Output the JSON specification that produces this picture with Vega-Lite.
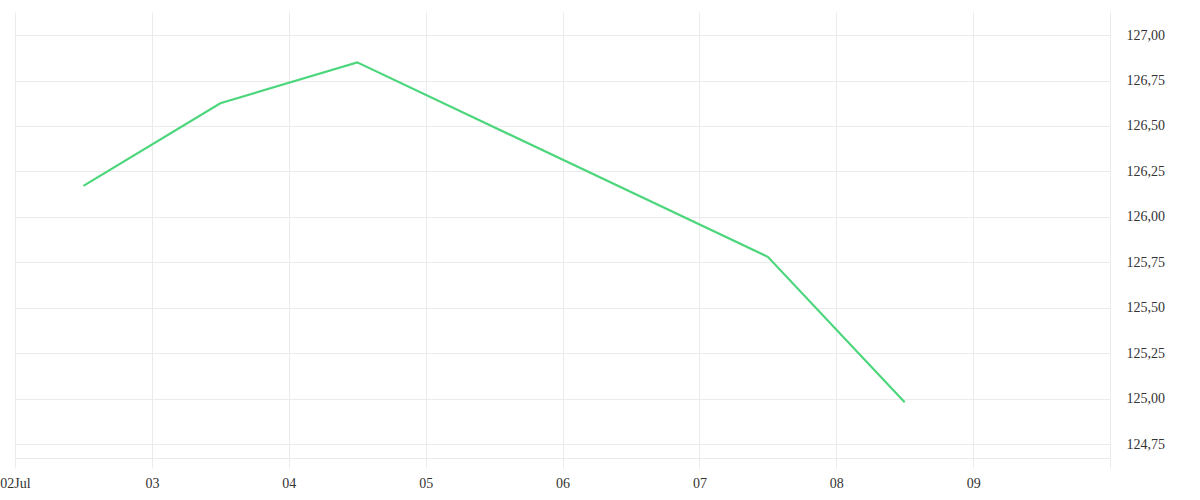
{
  "$schema": "https://vega.github.io/schema/vega-lite/v6.json",
  "width": 1095,
  "height": 446,
  "autosize": {"type": "none"},
  "padding": {"left": 15, "top": 12, "right": 90, "bottom": 42},
  "background": "white",
  "config": {
    "view": {"stroke": null},
    "font": "serif",
    "axis": {"labelFont": "serif", "labelFontSize": 14, "labelColor": "#333333", "gridColor": "#ebebeb", "domainColor": "#ebebeb", "tickColor": "#ebebeb", "title": null}
  },
  "data": {
    "values": [
      {"date": "2024-07-02T12:00:00", "price": 126.17},
      {"date": "2024-07-03T12:00:00", "price": 126.625},
      {"date": "2024-07-04T12:00:00", "price": 126.85},
      {"date": "2024-07-07T12:00:00", "price": 125.78},
      {"date": "2024-07-08T12:00:00", "price": 124.98}
    ]
  },
  "mark": {"type": "line", "color": "#4cd67c", "strokeWidth": 2.2},
  "encoding": {
    "x": {
      "field": "date",
      "type": "temporal",
      "scale": {"domain": [{"year": 2024, "month": 7, "date": 2}, {"year": 2024, "month": 7, "date": 10}], "nice": false},
      "axis": {
        "values": [
          {"year": 2024, "month": 7, "date": 2},
          {"year": 2024, "month": 7, "date": 3},
          {"year": 2024, "month": 7, "date": 4},
          {"year": 2024, "month": 7, "date": 5},
          {"year": 2024, "month": 7, "date": 6},
          {"year": 2024, "month": 7, "date": 7},
          {"year": 2024, "month": 7, "date": 8},
          {"year": 2024, "month": 7, "date": 9},
          {"year": 2024, "month": 7, "date": 10}
        ],
        "labelExpr": "date(datum.value) == 10 ? '' : (date(datum.value) == 2 ? timeFormat(datum.value, '%d%b') : timeFormat(datum.value, '%d'))",
        "labelAlign": "center",
        "labelFlush": false,
        "labelOverlap": false,
        "grid": true,
        "tickSize": 10,
        "labelPadding": 8,
        "domain": true
      }
    },
    "y": {
      "field": "price",
      "type": "quantitative",
      "scale": {"domain": [124.673, 127.127], "nice": false, "zero": false},
      "axis": {
        "orient": "right",
        "values": [124.75, 125, 125.25, 125.5, 125.75, 126, 126.25, 126.5, 126.75, 127],
        "labelExpr": "replace(format(datum.value, '.2f'), '.', ',')",
        "ticks": false,
        "domain": false,
        "labelPadding": 16,
        "grid": true
      }
    }
  }
}
